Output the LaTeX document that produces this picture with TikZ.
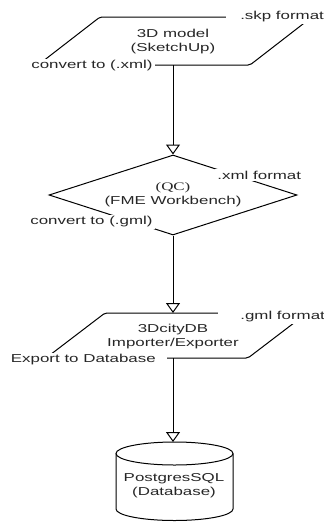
\documentclass[tikz,border=0pt]{standalone}
\usepackage{fontspec}
\setmainfont{Liberation Sans}
\newfontfamily\qcfont{Liberation Serif}
\usetikzlibrary{arrows.meta,shapes.geometric}

\tikzset{
  flow/.style={draw, line width=1pt, -{Triangle[open,length=10pt,width=14pt]}},
  shapeline/.style={draw, line width=1pt, rounded corners=2pt},
  wide/.style={transform shape, xscale=1.47, text=black!85, font=\fontsize{11.5}{14}\selectfont},
  tag/.style={wide, fill=white, inner sep=1.5pt},
  body/.style={wide, align=center, inner sep=0pt},
}

\begin{document}
\begin{tikzpicture}[x=1pt,y=-1pt]
\useasboundingbox (0,0) rectangle (324,523);
% sketchup model
\draw[shapeline] (100,17) -- (312,17) -- (250,65) -- (38,65) -- cycle;
\coordinate (skpout) at (173,65);
\node[body] (skp) at (173,42) {3D model\\(SketchUp)};
\node[tag, anchor=west, inner xsep=9.5pt] (skpfmt) at (226,17) {.skp format};
\node[tag, anchor=east] (toxml) at (155,66) {convert to (.xml)};
% quality check
\node[draw, diamond, line width=1pt, aspect=3.1, minimum width=248pt, minimum height=80pt, inner sep=0pt] (qc) at (173,195) {};
\node[body] (qctext) at (qc.center) {{\qcfont (QC)}\\(FME Workbench)};
\node[tag, anchor=west] (xmlfmt) at (215,175) {.xml format};
\node[tag, anchor=east] (togml) at (155,222) {convert to (.gml)};
% importer
\draw[shapeline] (105,313) -- (307,313) -- (248,358) -- (46,358) -- cycle;
\coordinate (citytop) at (173,313);
\coordinate (cityout) at (173,358);
\node[body] (city) at (173,337) {3DcityDB\\Importer/Exporter};
\node[tag, anchor=west, inner xsep=15pt] (gmlfmt) at (218,317) {.gml format};
\node[tag, anchor=east, inner xsep=7.5pt] (todb) at (167,360) {Export to Database};
% database
\draw[line width=1pt] (174.5,453.5) ellipse [x radius=58.5, y radius=11.5];
\draw[line width=1pt] (116,453.5) -- (116,509) arc[start angle=180, end angle=0, x radius=58.5, y radius=11.5] -- (233,453.5);
\coordinate (dbtop) at (173,442);
\node[body] (db) at (174,486) {PostgresSQL\\(Database)};
% connectors
\draw[flow] (skpout) -- (qc.north);
\draw[flow] (qc.south) -- (citytop);
\draw[flow] (cityout) -- (dbtop);
\end{tikzpicture}
\end{document}
